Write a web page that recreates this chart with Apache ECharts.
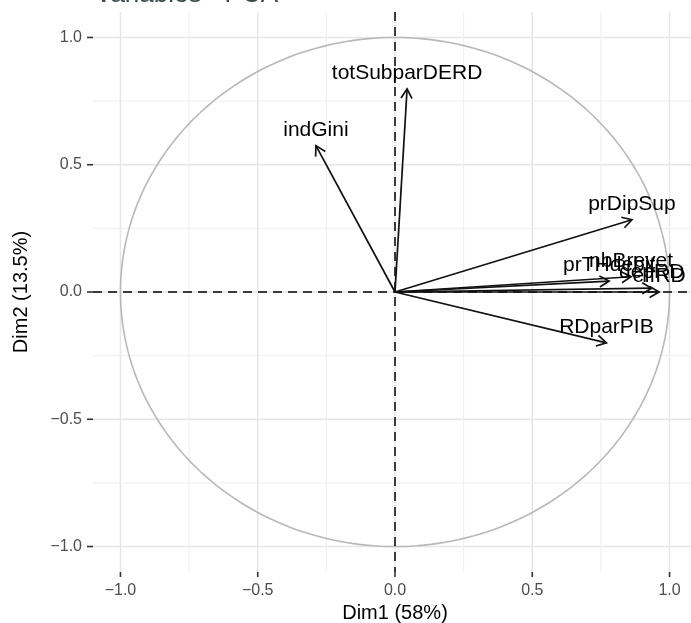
<!DOCTYPE html>
<html><head><meta charset="utf-8">
<script src="https://cdn.jsdelivr.net/npm/echarts@6/dist/echarts.min.js"></script>
<style>html,body{margin:0;padding:0;background:#fff}#chart{width:691px;height:623px}</style>
</head><body><div id="chart"></div>
<script>
// ---- data ----
const variables = ['indGini', 'totSubparDERD', 'prDipSup', 'prTHdebit', 'nbBrevet', 'depRD', 'effRD', 'RDparPIB'];
const dim1 = [-0.288, 0.044, 0.863, 0.780, 0.860, 0.935, 0.962, 0.770];
const dim2 = [0.575, 0.798, 0.284, 0.043, 0.060, 0.015, 0.000, -0.200];
const tickValues = [-1, -0.5, 0, 0.5, 1];
const tickLabels = ['\u22121.0', '\u22120.5', '0.0', '0.5', '1.0'];
const majorGrid = [-1, -0.5, 0, 0.5, 1];
const minorGrid = [-0.75, -0.25, 0.25, 0.75];
const titleText = 'Variables - PCA';
const xTitle = 'Dim1 (58%)';
const yTitle = 'Dim2 (13.5%)';

const FONT = '"Liberation Sans", Arial, Helvetica, sans-serif';
const chart = echarts.init(document.getElementById('chart'), null, {renderer: 'canvas'});

function fmt(v) {
  for (let i = 0; i < tickValues.length; i++) if (Math.abs(tickValues[i] - v) < 1e-9) return tickLabels[i];
  return '';
}

const gridData = [];
majorGrid.forEach(v => { gridData.push([v, 0, 1]); gridData.push([v, 1, 1]); });
minorGrid.forEach(v => { gridData.push([v, 0, 0]); gridData.push([v, 1, 0]); });
const tickData = [];
tickValues.forEach(v => { tickData.push([v, 0]); tickData.push([v, 1]); });

const arrowData = variables.map((n, i) => [dim1[i], dim2[i], i]);

function axisCommon(name, gap) {
  return {
    type: 'value', min: -1.1, max: 1.1,
    axisLine: {show: false, onZero: false},
    splitLine: {show: false},
    axisTick: {show: false},
    axisLabel: {customValues: tickValues, formatter: fmt, color: '#4d4d4d', fontSize: 16, margin: 11, fontFamily: FONT},
    name: name, nameLocation: 'middle', nameGap: gap,
    nameTextStyle: {color: '#000', fontSize: 20, fontFamily: FONT}
  };
}

const option = {
  animation: false,
  backgroundColor: '#fff',
  grid: {left: 93, right: -6, top: 12, bottom: 51, outerBoundsMode: 'none', containLabel: false},
  xAxis: axisCommon(xTitle, 29),
  yAxis: axisCommon(yTitle, 62),
  graphic: [{
    type: 'text', left: 95, top: -18,
    style: {text: titleText, font: '26px ' + FONT, fill: '#3a4a4a'}
  }],
  series: [
    {
      type: 'custom', z: 1, silent: true, data: gridData,
      renderItem: function (params, api) {
        const v = api.value(0), o = api.value(1), major = api.value(2);
        const cs = params.coordSys;
        const p = api.coord([v, v]);
        const style = {stroke: major ? '#e6e6e6' : '#efefef', lineWidth: major ? 1.5 : 1};
        if (o === 0) return {type: 'line', shape: {x1: p[0], y1: cs.y, x2: p[0], y2: cs.y + cs.height}, style: style};
        return {type: 'line', shape: {x1: cs.x, y1: p[1], x2: cs.x + cs.width, y2: p[1]}, style: style};
      }
    },
    {
      type: 'custom', z: 1, silent: true, clip: false, data: tickData,
      renderItem: function (params, api) {
        const v = api.value(0), o = api.value(1);
        const cs = params.coordSys;
        const p = api.coord([v, v]);
        const style = {stroke: '#333', lineWidth: 1.6};
        if (o === 0) return {type: 'line', shape: {x1: p[0], y1: cs.y + cs.height, x2: p[0], y2: cs.y + cs.height + 5}, style: style};
        return {type: 'line', shape: {x1: cs.x - 6, y1: p[1], x2: cs.x, y2: p[1]}, style: style};
      }
    },
    {
      type: 'custom', z: 2, silent: true, data: [[0, 0]],
      renderItem: function (params, api) {
        const pts = [];
        const N = 240;
        for (let k = 0; k <= N; k++) {
          const t = 2 * Math.PI * k / N;
          pts.push(api.coord([Math.cos(t), Math.sin(t)]));
        }
        return {type: 'polyline', shape: {points: pts}, style: {stroke: '#b8b8b8', lineWidth: 1.6, fill: null}};
      }
    },
    {
      type: 'custom', z: 3, silent: true, data: [[0, 0]],
      renderItem: function (params, api) {
        const cs = params.coordSys;
        const o = api.coord([0, 0]);
        const st = {stroke: '#000', lineWidth: 1.5, lineDash: [9, 6]};
        return {type: 'group', children: [
          {type: 'line', shape: {x1: o[0], y1: cs.y, x2: o[0], y2: cs.y + cs.height}, style: st},
          {type: 'line', shape: {x1: cs.x, y1: o[1], x2: cs.x + cs.width, y2: o[1]}, style: st}
        ]};
      }
    },
    {
      type: 'custom', z: 4, silent: true, data: arrowData,
      renderItem: function (params, api) {
        const o = api.coord([0, 0]);
        const p = api.coord([api.value(0), api.value(1)]);
        const idx = api.value(2);
        const ang = Math.atan2(p[1] - o[1], p[0] - o[0]);
        const L = 11, phi = Math.PI / 6;
        const a1 = [p[0] - L * Math.cos(ang - phi), p[1] - L * Math.sin(ang - phi)];
        const a2 = [p[0] - L * Math.cos(ang + phi), p[1] - L * Math.sin(ang + phi)];
        const st = {stroke: '#111', lineWidth: 1.7, fill: null};
        return {type: 'group', children: [
          {type: 'line', shape: {x1: o[0], y1: o[1], x2: p[0], y2: p[1]}, style: st},
          {type: 'polyline', shape: {points: [a1, p, a2]}, style: st},
          {type: 'text', x: p[0], y: p[1] - 5,
            style: {text: variables[idx], font: '21px ' + FONT, fill: '#000', align: 'center', verticalAlign: 'bottom'}}
        ]};
      }
    }
  ]
};
chart.setOption(option);
</script>
</body></html>
